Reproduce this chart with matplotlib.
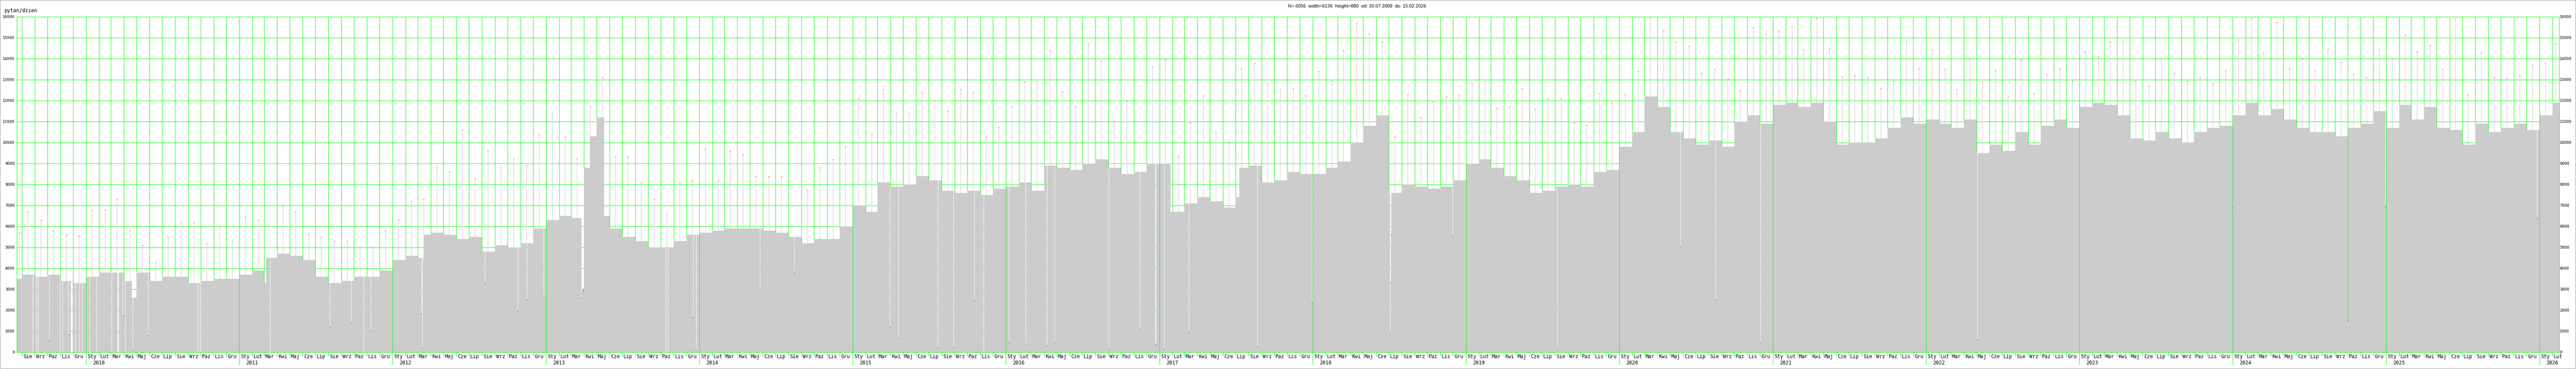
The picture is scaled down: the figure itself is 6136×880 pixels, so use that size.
# -*- coding: utf-8 -*-
"""
Daily question counts (pytan/dzien), 20.07.2009 - 15.02.2026.
Monthly typical level, monthly peak and the low days read off the original chart.
"""
import numpy as np
import pandas as pd
import matplotlib
matplotlib.use('Agg')
import matplotlib.pyplot as plt
from matplotlib.patches import Rectangle

GREEN = '#00ff00'
BAR = '#cccccc'
MONO = 'DejaVu Sans Mono'
LW = 0.72  # one pixel at 100 dpi

start = pd.Timestamp('2009-07-20')
n_days = 6056
days = pd.date_range(start, periods=n_days, freq='D')

months = pd.period_range('2009-07', '2026-02', freq='M')
month_names = ['Sty', 'Lut', 'Mar', 'Kwi', 'Maj', 'Cze',
               'Lip', 'Sie', 'Wrz', 'Paz', 'Lis', 'Gru']

# typical daily level per month (Jul 2009 .. Feb 2026)
level = [
    3500, 3700, 3600, 3700, 3400, 3300,
    3600, 3800, 3800, 3400, 3800, 3400, 3600, 3600, 3300, 3400, 3500, 3500,
    3700, 3900, 3300, 4700, 4600, 4400, 3600, 3300, 3400, 3600, 3600, 3900,
    4400, 4600, 4500, 5700, 5600, 5400, 5500, 4800, 5100, 5000, 5200, 5900,
    6300, 6500, 6400, 8800, 11200, 5900, 5500, 5300, 5000, 5000, 5300, 5600,
    5700, 5800, 5900, 5900, 5900, 5800, 5700, 5500, 5200, 5400, 5400, 6000,
    7000, 6700, 8100, 7900, 8000, 8400, 8200, 7700, 7600, 7700, 7500, 7800,
    7900, 8100, 7700, 8900, 8800, 8700, 9000, 9200, 8800, 8500, 8600, 9000,
    9000, 6700, 7100, 7400, 7200, 6900, 7400, 8900, 8100, 8200, 8600, 8500,
    8500, 8800, 9100, 10000, 10800, 11300, 7600, 8000, 7900, 7800, 7900, 8200,
    9000, 9200, 8800, 8400, 8200, 7600, 7700, 7900, 8000, 7900, 8600, 8700,
    9800, 10500, 12200, 11700, 10500, 10200, 9900, 10100, 9800, 11000, 11300, 10900,
    11800, 11900, 11700, 11900, 11000, 9900, 10000, 10000, 10200, 10700, 11200, 10900,
    11100, 10900, 10700, 11100, 9500, 9900, 9600, 10500, 9900, 10800, 11100, 10700,
    11700, 11900, 11800, 11300, 10200, 10100, 10500, 10200, 10000, 10500, 10700, 10800,
    11300, 11900, 11300, 11600, 11100, 10700, 10500, 10500, 10300, 10700, 10900, 11500,
    10700, 11800, 11100, 11700, 10700, 10600, 9900, 10900, 10500, 10700, 10900, 10600,
    11300, 11900,
]

# highest day of each month
peak = [
    5700, 6700, 6300, 5800, 5600, 5550,
    6800, 6800, 7300, 5800, 5100, 4300, 5500, 6200, 6200, 5200, 6000, 5300,
    6500, 6300, 7050, 7050, 6700, 5650, 5500, 5300, 5300, 5000, 5000, 5800,
    6350, 7200, 7300, 8800, 8600, 10600, 8300, 9600, 8800, 9250, 8900, 10400,
    11400, 10300, 9250, 11700, 13100, 9350, 9350, 8100, 7300, 6600, 8100, 8200,
    9700, 8200, 9600, 9450, 8400, 8400, 8400, 9700, 7750, 8800, 9200, 9800,
    12100, 10400, 12550, 11400, 11400, 12400, 12000, 11500, 12550, 12400, 10300, 10750,
    11700, 12900, 12900, 14400, 12450, 11700, 14700, 13900, 11000, 12000, 12500, 13600,
    13950, 9350, 10950, 12250, 10500, 10000, 13550, 13800, 12800, 12550, 12600, 12250,
    13400, 12950, 14400, 15700, 15200, 14800, 10300, 12300, 11200, 11950, 12200, 12250,
    12800, 12900, 11650, 11700, 12600, 11600, 12100, 12100, 10950, 10850, 12350, 11900,
    12300, 13400, 15950, 15350, 14800, 14600, 13300, 13500, 13050, 12500, 15500, 15200,
    15300, 15550, 14450, 15950, 14500, 13150, 13200, 13100, 12600, 12950, 14900, 13550,
    14450, 13500, 12550, 14000, 12900, 13450, 12200, 13950, 12350, 13250, 13550, 12950,
    14350, 14100, 14800, 14850, 12950, 12700, 14000, 13300, 12950, 13100, 12800, 13450,
    14900, 15950, 14300, 15750, 13550, 14000, 13450, 14500, 13850, 13250, 13100, 14450,
    14000, 15150, 14350, 14650, 13500, 15900, 12300, 14300, 13100, 13100, 13200, 13700,
    13800, 14700,
]

# changes of level inside a month
shift_dates = ['2010-04-20', '2011-03-06', '2012-03-15', '2013-04-15',
               '2013-05-19', '2017-01-27', '2017-07-10']
shift_values = [2600, 4500, 5600, 10300, 6500, 6700, 8800]

# low days (outages)
dip_dates = [
    '2009-08-27', '2009-09-05', '2009-09-09', '2009-10-05', '2009-10-31',
    '2009-11-06', '2009-11-20', '2009-11-26', '2009-11-27', '2009-11-28',
    '2009-11-29', '2009-12-06', '2009-12-16', '2009-12-23', '2010-01-09',
    '2010-01-25', '2010-03-03', '2010-03-17', '2010-03-18', '2010-03-19',
    '2010-03-29', '2010-04-04', '2010-04-22', '2010-05-29', '2010-09-24',
    '2010-09-30', '2011-03-15', '2011-08-05', '2011-09-25', '2011-10-24',
    '2011-11-10', '2012-03-10', '2012-03-12', '2012-08-08', '2012-10-25',
    '2012-11-16', '2012-12-26', '2013-03-26', '2013-03-27', '2013-03-28',
    '2013-03-29', '2013-03-30', '2013-03-31', '2013-10-13', '2013-10-18',
    '2013-12-17', '2013-12-24', '2014-05-25', '2014-08-15', '2015-03-31',
    '2015-04-20', '2015-07-23', '2015-08-29', '2015-10-18', '2015-11-09',
    '2016-01-08', '2016-02-17', '2016-04-08', '2016-04-26', '2016-09-02',
    '2016-11-15', '2016-12-22', '2016-12-23', '2017-01-12', '2017-03-12',
    '2017-08-22', '2017-12-30', '2018-07-04', '2018-07-05', '2018-07-06',
    '2018-11-30', '2019-08-06', '2020-05-25', '2020-08-17', '2020-12-02',
    '2022-05-03', '2024-01-01', '2024-10-01', '2024-12-30', '2025-12-26',
]
dip_values = [
    0, 0, 0, 570, 0,
    0, 840, 0, 0, 0,
    0, 0, 0, 0, 0,
    0, 0, 0, 0, 0,
    1740, 0, 100, 800, 0,
    0, 0, 1200, 1400, 0,
    1050, 1850, 200, 3300, 1960,
    2500, 2600, 2600, 2800, 2900,
    2950, 3000, 3000, 0, 0,
    1670, 100, 3000, 3800, 1200,
    680, 220, 250, 2480, 0,
    490, 400, 330, 490, 160,
    1100, 400, 350, 160, 940,
    270, 2370, 870, 3350, 5600,
    5550, 190, 5050, 2500, 460,
    600, 6900, 1510, 6950, 6400,
]

# ---- build the daily series
month_start = months.to_timestamp()
steps = pd.concat([pd.Series(level, index=month_start),
                   pd.Series(shift_values, index=pd.to_datetime(shift_dates))]).sort_index()
daily = steps.reindex(steps.index.union(days)).ffill().reindex(days)

peak_dates = list(month_start + pd.Timedelta(days=14))
peak_dates[0] = pd.Timestamp('2009-07-25')
peak_dates[-1] = pd.Timestamp('2026-02-08')
daily.loc[pd.DatetimeIndex(peak_dates)] = peak
daily.loc[pd.to_datetime(dip_dates)] = dip_values

x = np.asarray((daily.index - start).days)
vals = daily.values

# ---- figure
W, H = 6136, 880
fig = plt.figure(figsize=(W / 100, H / 100), dpi=100)
ax = fig.add_axes([40 / W, 40 / H, 6056 / W, 800 / H])
ax.set_xlim(0, n_days)
ax.set_ylim(0, 16000)

for v in range(0, 16001, 1000):
    ax.axhline(v, color=GREEN, lw=LW, zorder=1, antialiased=False, snap=True)

month_x = [(m.to_timestamp() - start).days for m in months[1:]]
year_ts = [m.to_timestamp() for m in months if m.month == 1]
year_x = [(t - start).days for t in year_ts]
for mx in month_x:
    ax.axvline(mx, color=GREEN, lw=LW, zorder=1, antialiased=False, snap=True)

ax.bar(x, vals, width=1.0, align='edge', color=BAR, lw=0,
       antialiased=False, zorder=2)

for yx in year_x:
    ax.axvline(yx, color=GREEN, lw=LW, zorder=3, antialiased=False, snap=True)

# red marks on the tops of the peak and low days
mark = pd.DatetimeIndex(peak_dates).union(pd.to_datetime(dip_dates))
mx_ = np.asarray((mark - start).days)
my_ = daily.loc[mark].values
keep = my_ > 0
ax.plot(mx_[keep] + 0.5, my_[keep], 's', ms=1.2, mew=0, color='#ff0000', zorder=4)

for s in ax.spines.values():
    s.set_color(GREEN)
    s.set_linewidth(LW)

ax.set_xticks(year_x)
ax.set_xticks(month_x, minor=True)
ax.tick_params(axis='x', which='major', length=21.6, width=LW, color=GREEN,
               direction='out', labelbottom=False)
ax.tick_params(axis='x', which='minor', length=7.2, width=LW, color=GREEN,
               direction='out', labelbottom=False)
ax.set_yticks([])

ytr = ax.get_yaxis_transform()
for v in range(0, 16001, 1000):
    ax.text(-5 / 6056, v, str(v), transform=ytr, ha='right', va='center',
            family=MONO, fontsize=6.8, color='black')
    ax.text(1 + 1 / 6056, v, str(v), transform=ytr, ha='left', va='center',
            family=MONO, fontsize=6.8, color='black')

xtr = ax.get_xaxis_transform()
for m, mx in zip(months[1:], month_x):
    ax.text(mx + 3, -10.7 / 800, month_names[m.month - 1], transform=xtr,
            ha='left', va='center', family=MONO, fontsize=8.5, clip_on=False)
for t, yx in zip(year_ts, year_x):
    ax.text(yx + 16, -25.7 / 800, str(t.year), transform=xtr,
            ha='left', va='center', family=MONO, fontsize=8.5, clip_on=False)

fig.text(11 / W, 1 - 26 / H, 'pytan/dzien', ha='left', va='center',
         family=MONO, fontsize=8.5)
fig.text(3068 / W, 1 - 15 / H,
         'N= 6056  width=6136  height=880  od: 20.07.2009  do: 15.02.2026',
         ha='left', va='center', family='Liberation Sans', fontsize=8)

fig.patches.append(Rectangle((0, 0), 1, 1, transform=fig.transFigure, fill=False,
                             edgecolor='#a0a0a0', lw=1.5))

fig.savefig('out.png', dpi=100)
